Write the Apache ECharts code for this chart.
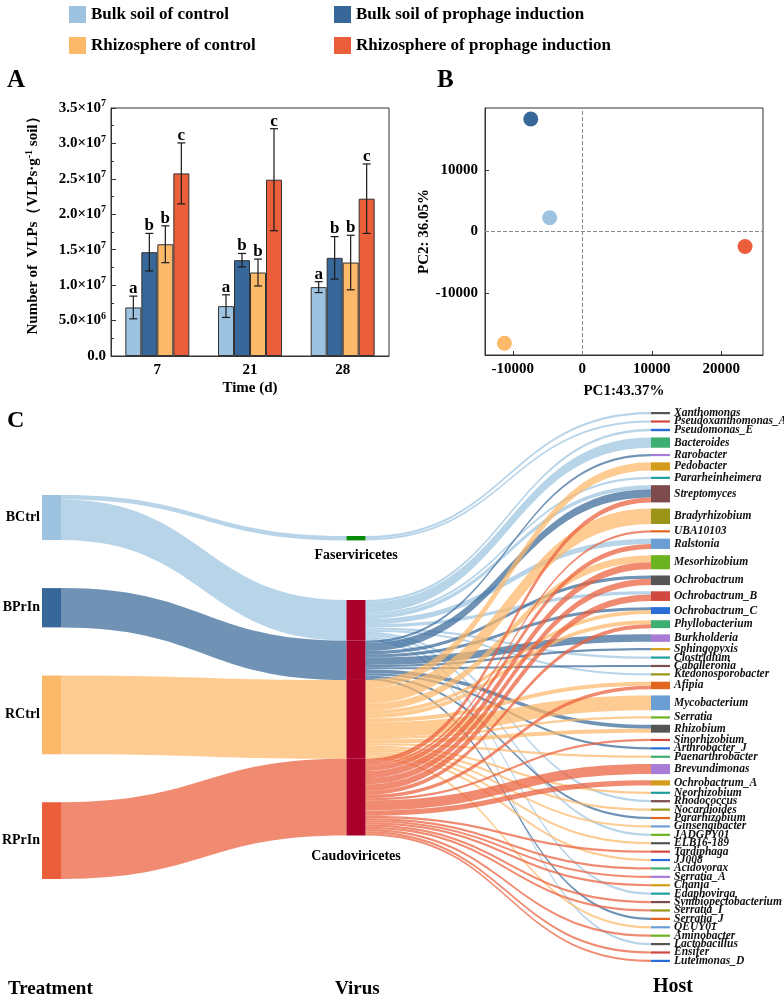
<!DOCTYPE html>
<html>
<head>
<meta charset="utf-8">
<script src="https://cdn.jsdelivr.net/npm/echarts@6/dist/echarts.min.js"></script>
<style>
html, body { margin: 0; padding: 0; background: #fff; }
#main { width: 784px; height: 1000px; }
</style>
</head>
<body>
<div id="main"></div>
<script>
// ---- panel A: VLP counts ----
var groups = ['Bulk soil of control', 'Bulk soil of prophage induction', 'Rhizosphere of control', 'Rhizosphere of prophage induction'];
var days = ['7', '21', '28'];
var vlpMean = [
    [6.85e6, 7.04e6, 9.72e6],
    [14.65e6, 13.52e6, 13.85e6],
    [15.77e6, 11.78e6, 13.19e6],
    [25.77e6, 24.88e6, 22.2e6]
];
var vlpErr = [
    [1.6e6, 1.6e6, 0.77e6],
    [2.65e6, 0.95e6, 3.0e6],
    [2.6e6, 1.9e6, 3.85e6],
    [4.3e6, 7.2e6, 4.9e6]
];
var sigLetters = [['a', 'a', 'a'], ['b', 'b', 'b'], ['b', 'b', 'b'], ['c', 'c', 'c']];

// ---- panel B: PCA ----
var pc1 = [-4690, -7414, -11207, 23420];
var pc2 = [2220, 18217, -18087, -2431];

// ---- panel C: sankey ----
var treatments = ['BCtrl', 'BPrIn', 'RCtrl', 'RPrIn'];
var treatToFaser = [4.4, 0, 0, 0];
var treatToCaudo = [40.6, 39.2, 78.6, 76.7];
var hosts = ['Xanthomonas', 'Pseudoxanthomonas_A', 'Pseudomonas_E', 'Bacteroides', 'Rarobacter', 'Pedobacter', 'Pararheinheimera', 'Streptomyces', 'Bradyrhizobium', 'UBA10103',
    'Ralstonia', 'Mesorhizobium', 'Ochrobactrum', 'Ochrobactrum_B', 'Ochrobactrum_C', 'Phyllobacterium', 'Burkholderia', 'Sphingopyxis', 'Clostridium', 'Caballeronia',
    'Ktedonosporobacter', 'Afipia', 'Mycobacterium', 'Serratia', 'Rhizobium', 'Sinorhizobium', 'Arthrobacter_J', 'Paenarthrobacter', 'Brevundimonas', 'Ochrobactrum_A',
    'Neorhizobium', 'Rhodococcus', 'Nocardioides', 'Pararhizobium', 'Ginsengibacter', 'JADGPY01', 'ELB16-189', 'Tardiphaga', 'JJ008', 'Acidovorax',
    'Serratia_A', 'Chania', 'Edaphovirga', 'Symbiopectobacterium', 'Serratia_I', 'Serratia_J', 'QEUY01', 'Aminobacter', 'Lactobacillus', 'Ensifer', 'Luteimonas_D'];
// flows into each host (same order as hosts)
var faserHost = [2.2, 2.2, 0, 0, 0, 0, 0, 0, 0, 0,
    0, 0, 0, 0, 0, 0, 0, 0, 0, 0,
    0, 0, 0, 0, 0, 0, 0, 0, 0, 0,
    0, 0, 0, 0, 0, 0, 0, 0, 0, 0,
    0, 0, 0, 0, 0, 0, 0, 0, 0, 0, 0];
var bctrlHost = [0, 0, 2.4, 10.3, 0, 0, 2.2, 4, 0, 0,
    5.3, 0, 0, 3.2, 0, 0, 0, 0, 2.2, 0,
    2.2, 0, 0, 0, 0, 0, 0, 0, 0, 0,
    0, 2.2, 0, 0, 0, 2.2, 0, 0, 0, 0,
    0, 0, 2.2, 0, 0, 0, 0, 0, 2.2, 0, 0];
var bprinHost = [0, 0, 0, 0, 2.2, 0, 0, 8.2, 0, 0,
    0, 0, 3.2, 0, 3.2, 0, 7.5, 2.2, 0, 2.2,
    0, 0, 0, 0, 3.9, 0, 2.2, 0, 0, 0,
    0, 0, 0, 2.2, 0, 0, 0, 0, 0, 0,
    0, 0, 0, 0, 0, 2.2, 0, 0, 0, 0, 0];
var rctrlHost = [0, 0, 0, 0, 0, 8.2, 0, 0, 15.4, 0,
    0, 7, 0, 0, 3.7, 4, 0, 0, 0, 0,
    0, 4, 14.7, 2.2, 4, 0, 0, 2.2, 0, 0,
    2.2, 0, 2.2, 0, 2.2, 0, 2.2, 0, 2.2, 0,
    0, 0, 0, 0, 0, 0, 2.2, 0, 0, 0, 0];
var rprinHost = [0, 0, 0, 0, 0, 0, 0, 5, 0, 2.2,
    5, 7.1, 6.4, 6.4, 0, 3.9, 0, 0, 0, 0,
    0, 3.5, 0, 0, 0, 2.2, 0, 0, 10, 5.2,
    0, 0, 0, 0, 0, 0, 0, 2.2, 0, 2.2,
    2.2, 2.2, 0, 2.2, 2.2, 0, 0, 2.2, 0, 2.2, 2.2];

var treatColors = ['#9DC3E1', '#386899', '#FDB96A', '#EA5E3A'];
var hostPalette = ['#555555', '#D0483F', '#2B6DD6', '#3DAE72', '#A77BD6', '#D39C1A', '#1F9E9E', '#7D4B4B', '#9A9518', '#E2661E', '#6C9ED6', '#6BB41F'];
var serif = '"Liberation Serif", "Times New Roman", serif';

var chart = echarts.init(document.getElementById('main'));

function sciLabel(v) {
    if (v === 0) return '{n|0.0}';
    var e = Math.floor(Math.log10(v) + 1e-9);
    var m = (v / Math.pow(10, e)).toFixed(1);
    return '{n|' + m + '×10}{s|' + e + '}';
}

var barWidth = 16;
var series = [];
groups.forEach(function (g, i) {
    series.push({
        name: g,
        type: 'bar',
        xAxisIndex: 0,
        yAxisIndex: 0,
        barWidth: barWidth,
        barGap: '0%',
        data: vlpMean[i],
        itemStyle: { color: treatColors[i], borderColor: '#333', borderWidth: 1 }
    });
});

var errData = [];
for (var gi = 0; gi < groups.length; gi++) {
    for (var ci = 0; ci < days.length; ci++) {
        errData.push([ci, gi, vlpMean[gi][ci], vlpErr[gi][ci]]);
    }
}
series.push({
    type: 'custom',
    xAxisIndex: 0,
    yAxisIndex: 0,
    z: 5,
    silent: true,
    encode: { x: 0, y: 2 },
    data: errData,
    renderItem: function (params, api) {
        var ci = api.value(0), gi = api.value(1), m = api.value(2), e = api.value(3);
        var c = api.coord([ci, m]);
        var x = c[0] + (gi - 1.5) * barWidth;
        var top = api.coord([ci, m + e])[1];
        var bot = api.coord([ci, m - e])[1];
        var st = { stroke: '#1a1a1a', lineWidth: 1.2 };
        return {
            type: 'group',
            children: [
                { type: 'line', shape: { x1: x, y1: top, x2: x, y2: bot }, style: st },
                { type: 'line', shape: { x1: x - 4, y1: top, x2: x + 4, y2: top }, style: st },
                { type: 'line', shape: { x1: x - 4, y1: bot, x2: x + 4, y2: bot }, style: st },
                {
                    type: 'text', x: x, y: top + 1,
                    style: { text: sigLetters[gi][ci], align: 'center', verticalAlign: 'bottom',
                        font: 'bold 17px ' + serif, fill: '#000' }
                }
            ]
        };
    }
});

series.push({
    type: 'scatter',
    xAxisIndex: 1,
    yAxisIndex: 1,
    symbolSize: 15,
    data: pc1.map(function (x, i) {
        return { value: [x, pc2[i]], itemStyle: { color: treatColors[i], opacity: 1 } };
    }),
    markLine: {
        silent: true,
        symbol: ['none', 'none'],
        label: { show: false },
        lineStyle: { type: 'dashed', color: '#8a8a8a', width: 1 },
        data: [{ xAxis: 0 }, { yAxis: 0 }]
    }
});

// sankey nodes and links
var sk = { left: 42, top: 412, width: 628, height: 550, nodeWidth: 19, nodeGap: 6.2 };
var allHostFlows = [faserHost, bctrlHost, bprinHost, rctrlHost, rprinHost];
var hostTotal = 0;
allHostFlows.forEach(function (arr) { arr.forEach(function (v) { hostTotal += v; }); });
var ky = (sk.height - (hosts.length - 1) * sk.nodeGap) / hostTotal;

var nodes = [];
var links = [];
var leftStart = 495, leftGap = 48;
var y = leftStart;
treatments.forEach(function (t, i) {
    nodes.push({
        name: t,
        localY: (y - sk.top) / sk.height,
        itemStyle: { color: treatColors[i] },
        label: { position: 'left', distance: 2, fontSize: 14, fontWeight: 'bold', fontFamily: serif, color: '#000' }
    });
    y += (treatToFaser[i] + treatToCaudo[i]) * ky + leftGap;
});
var virusLabel = { position: 'bottom', fontSize: 14, fontWeight: 'bold', fontFamily: serif, color: '#000' };
nodes.push({
    name: 'Faserviricetes',
    localY: (536 - sk.top) / sk.height,
    itemStyle: { color: '#0A8A0A' },
    label: Object.assign({ distance: 8 }, virusLabel)
});
var caudoStart = 600;
y = caudoStart;
treatments.forEach(function (t, i) {
    nodes.push({
        name: 'Caudoviricetes ' + t,
        localY: (y - sk.top) / sk.height,
        itemStyle: { color: '#A8002A' },
        label: i === treatments.length - 1
            ? Object.assign({ formatter: 'Caudoviricetes', distance: 14 }, virusLabel)
            : { show: false }
    });
    y += treatToCaudo[i] * ky;
});
hosts.forEach(function (h, i) {
    nodes.push({
        name: h,
        itemStyle: { color: hostPalette[i % hostPalette.length] },
        label: { position: 'right', distance: 4, fontSize: 11.5, lineHeight: 12, fontStyle: 'italic', fontWeight: 'bold', fontFamily: serif, color: '#111' }
    });
});

treatments.forEach(function (t, i) {
    if (treatToFaser[i] > 0) {
        links.push({ source: t, target: 'Faserviricetes', value: treatToFaser[i], lineStyle: { color: treatColors[i] } });
    }
    links.push({ source: t, target: 'Caudoviricetes ' + t, value: treatToCaudo[i], lineStyle: { color: treatColors[i] } });
});
hosts.forEach(function (h, k) {
    if (faserHost[k] > 0) {
        links.push({ source: 'Faserviricetes', target: h, value: faserHost[k], lineStyle: { color: treatColors[0] } });
    }
});
[bctrlHost, bprinHost, rctrlHost, rprinHost].forEach(function (arr, i) {
    arr.forEach(function (v, k) {
        if (v > 0) {
            links.push({ source: 'Caudoviricetes ' + treatments[i], target: hosts[k], value: v, lineStyle: { color: treatColors[i] } });
        }
    });
});

series.push({
    type: 'sankey',
    left: sk.left,
    top: sk.top,
    width: sk.width,
    height: sk.height,
    nodeWidth: sk.nodeWidth,
    nodeGap: sk.nodeGap,
    layoutIterations: 0,
    draggable: false,
    nodeAlign: 'justify',
    emphasis: { disabled: true },
    itemStyle: { borderWidth: 0 },
    lineStyle: { curveness: 0.5, opacity: 0.72 },
    data: nodes,
    links: links
});

var axisTxt = { color: '#000', fontFamily: serif, fontWeight: 'bold', fontSize: 15 };
var plainNum = function (v) { return String(v); };
var legendBase = {
    orient: 'vertical',
    top: 1,
    itemWidth: 17,
    itemHeight: 17,
    itemGap: 14,
    icon: 'rect',
    itemStyle: { borderWidth: 0 },
    textStyle: { color: '#000', fontFamily: serif, fontWeight: 'bold', fontSize: 17 }
};

var option = {
    animation: false,
    textStyle: { fontFamily: serif },
    legend: [
        Object.assign({ left: 64, data: [groups[0], groups[2]] }, legendBase),
        Object.assign({ left: 329, data: [groups[1], groups[3]] }, legendBase)
    ],
    grid: [
        { left: 111, top: 108, width: 278, height: 248, show: true, borderColor: '#333', borderWidth: 1, backgroundColor: 'transparent' },
        { left: 485, top: 108, width: 278, height: 247, show: true, borderColor: '#333', borderWidth: 1, backgroundColor: 'transparent' }
    ],
    xAxis: [
        {
            gridIndex: 0,
            type: 'category',
            data: days,
            axisLine: { lineStyle: { color: '#333' } },
            axisTick: { alignWithLabel: true, length: 4, lineStyle: { color: '#333' } },
            axisLabel: Object.assign({ margin: 7 }, axisTxt),
            name: 'Time (d)',
            nameLocation: 'middle',
            nameGap: 25,
            nameTextStyle: axisTxt
        },
        {
            gridIndex: 1,
            type: 'value',
            min: -14000,
            max: 26000,
            splitLine: { show: false },
            axisLine: { onZero: false, lineStyle: { color: '#333' } },
            axisTick: { inside: true, length: 4, lineStyle: { color: '#333' } },
            axisLabel: Object.assign({ margin: 7, showMinLabel: false, showMaxLabel: false, formatter: plainNum }, axisTxt),
            name: 'PC1:43.37%',
            nameLocation: 'middle',
            nameGap: 29,
            nameTextStyle: axisTxt
        }
    ],
    yAxis: [
        {
            gridIndex: 0,
            type: 'value',
            min: 0,
            max: 3.5e7,
            interval: 5e6,
            splitLine: { show: false },
            axisLine: { show: true, lineStyle: { color: '#333' } },
            axisTick: { show: true, inside: true, length: 5, lineStyle: { color: '#333' } },
            minorTick: { show: true, splitNumber: 2, length: 3, lineStyle: { color: '#333' } },
            axisLabel: {
                margin: 5,
                formatter: sciLabel,
                rich: {
                    n: { color: '#000', fontFamily: serif, fontWeight: 'bold', fontSize: 15 },
                    s: { color: '#000', fontFamily: serif, fontWeight: 'bold', fontSize: 10, padding: [0, 0, 9, 0] }
                }
            },
            name: 'Number of  VLPs（VLPs·g{s|-1} soil）',
            nameLocation: 'middle',
            nameGap: 68,
            nameRotate: 90,
            nameTextStyle: Object.assign({
                padding: [0, 0, 0, 20],
                rich: { s: { color: '#000', fontFamily: serif, fontWeight: 'bold', fontSize: 10, padding: [0, 0, 9, 0] } }
            }, axisTxt)
        },
        {
            gridIndex: 1,
            type: 'value',
            min: -20000,
            max: 20000,
            interval: 10000,
            splitLine: { show: false },
            axisLine: { onZero: false, lineStyle: { color: '#333' } },
            axisTick: { inside: true, length: 4, lineStyle: { color: '#333' } },
            axisLabel: Object.assign({ margin: 7, showMinLabel: false, showMaxLabel: false, formatter: plainNum }, axisTxt),
            name: 'PC2: 36.05%',
            nameLocation: 'middle',
            nameGap: 44,
            nameRotate: 90,
            nameTextStyle: axisTxt
        }
    ],
    graphic: [
        { type: 'text', left: 7, top: 68, style: { text: 'A', font: 'bold 25px ' + serif, fill: '#000' } },
        { type: 'text', left: 437, top: 68, style: { text: 'B', font: 'bold 25px ' + serif, fill: '#000' } },
        { type: 'text', left: 7, top: 409, style: { text: 'C', font: 'bold 24px ' + serif, fill: '#000' } },
        { type: 'text', left: 8, top: 980, style: { text: 'Treatment', font: 'bold 19px ' + serif, fill: '#000' } },
        { type: 'text', left: 335, top: 980, style: { text: 'Virus', font: 'bold 19px ' + serif, fill: '#000' } },
        { type: 'text', left: 653, top: 977, style: { text: 'Host', font: 'bold 20px ' + serif, fill: '#000' } }
    ],
    series: series
};

chart.setOption(option);
</script>
</body>
</html>
